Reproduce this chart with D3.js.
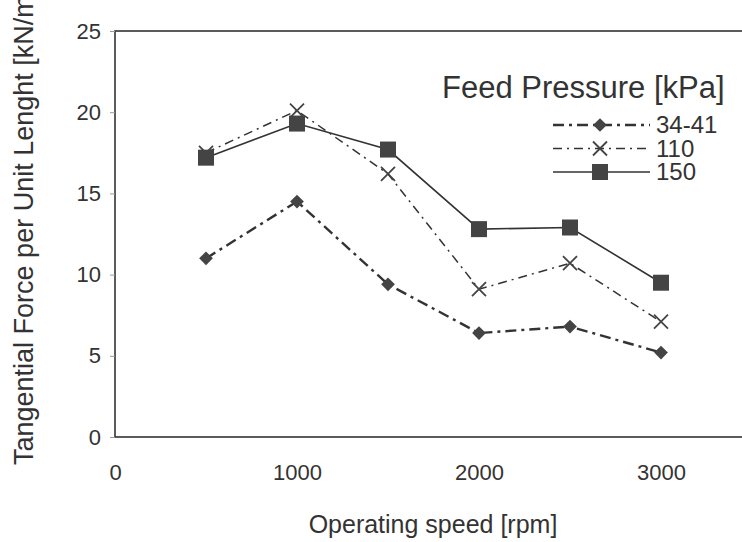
<!DOCTYPE html>
<html>
<head>
<meta charset="utf-8">
<script src="https://cdn.jsdelivr.net/npm/d3@7"></script>
<style>
  body { margin: 0; background: #fff; }
  text { font-family: "Liberation Sans", Arial, sans-serif; fill: #333; }
</style>
</head>
<body>
<svg id="chart" width="742" height="542"></svg>
<script>
const speeds = [500, 1000, 1500, 2000, 2500, 3000];
const p3441 = [11.0, 14.5, 9.4, 6.4, 6.8, 5.2];
const p110 = [17.5, 20.1, 16.2, 9.1, 10.7, 7.1];
const p150 = [17.2, 19.3, 17.7, 12.8, 12.9, 9.5];
const seriesNames = ['34-41', '110', '150'];
const xTicks = [0, 1000, 2000, 3000];
const yTicks = [0, 5, 10, 15, 20, 25];

const margin = {top: 31, left: 115, bottom: 105};
const width = 742 + 10 - margin.left;
const height = 542 - margin.top - margin.bottom;

const x = d3.scaleLinear().domain([0, 3500]).range([0, width]);
const y = d3.scaleLinear().domain([0, 25]).range([height, 0]);

const svg = d3.select('#chart');
const chart = svg.append('g')
    .attr('transform', `translate(${margin.left},${margin.top})`);

// plot frame
chart.append('rect')
    .attr('width', width)
    .attr('height', height)
    .attr('fill', 'none')
    .attr('stroke', '#333')
    .attr('stroke-width', 1.6);

const yAxis = d3.axisLeft(y).tickValues(yTicks).tickSize(5).tickPadding(9);
chart.append('g')
    .call(yAxis)
    .call(g => g.select('.domain').remove())
    .call(g => g.selectAll('line').attr('stroke', '#999'))
    .call(g => g.selectAll('text')
        .style('font-size', '22px')
        .attr('fill', '#333'));

const xAxis = d3.axisBottom(x).tickValues(xTicks).tickFormat(d3.format('d'))
    .tickSize(0).tickPadding(27);
chart.append('g')
    .attr('transform', `translate(0,${height})`)
    .call(xAxis)
    .call(g => g.select('.domain').remove())
    .call(g => g.selectAll('text')
        .style('font-size', '22px')
        .attr('fill', '#333'));

svg.append('text')
    .attr('x', 433)
    .attr('y', 533)
    .attr('text-anchor', 'middle')
    .style('font-size', '25px')
    .text('Operating speed [rpm]');

svg.append('text')
    .attr('transform', 'translate(33,465) rotate(-90)')
    .style('font-size', '27px')
    .text('Tangential Force per Unit Lenght [kN/m]');

const styles = {
  '34-41': {dash: '11,5,3,5', width: 2.4, data: p3441, marker: 'diamond'},
  '110': {dash: '9,5,2,5', width: 1.5, data: p110, marker: 'cross'},
  '150': {dash: null, width: 1.6, data: p150, marker: 'square'}
};

const line = d3.line()
    .x(d => x(d[0]))
    .y(d => y(d[1]));

function drawMarker(g, type, cx, cy) {
  if (type === 'diamond') {
    g.append('path')
        .attr('d', d3.symbol(d3.symbolDiamond2, 120)())
        .attr('transform', `translate(${cx},${cy})`)
        .attr('fill', '#444');
  } else if (type === 'square') {
    g.append('rect')
        .attr('x', cx - 8).attr('y', cy - 8)
        .attr('width', 16).attr('height', 16)
        .attr('fill', '#444');
  } else {
    g.append('path')
        .attr('d', `M${cx - 7},${cy - 7}L${cx + 7},${cy + 7}M${cx - 7},${cy + 7}L${cx + 7},${cy - 7}`)
        .attr('stroke', '#444')
        .attr('stroke-width', 1.8)
        .attr('fill', 'none');
  }
}

seriesNames.forEach(name => {
  const s = styles[name];
  const pts = speeds.map((v, i) => [v, s.data[i]]);
  chart.append('path')
      .datum(pts)
      .attr('d', line)
      .attr('fill', 'none')
      .attr('stroke', '#333')
      .attr('stroke-width', s.width)
      .attr('stroke-dasharray', s.dash);
  const mg = chart.append('g');
  pts.forEach(p => drawMarker(mg, s.marker, x(p[0]), y(p[1])));
});

// legend
const legend = svg.append('g');
legend.append('text')
    .attr('x', 442)
    .attr('y', 98)
    .style('font-size', '31px')
    .text('Feed Pressure [kPa]');

seriesNames.forEach((name, i) => {
  const s = styles[name];
  const ly = 125 + i * 23.5;
  legend.append('line')
      .attr('x1', 553).attr('x2', 650)
      .attr('y1', ly).attr('y2', ly)
      .attr('stroke', '#333')
      .attr('stroke-width', s.width)
      .attr('stroke-dasharray', s.dash);
  drawMarker(legend, s.marker, 600, ly);
  legend.append('text')
      .attr('x', 656)
      .attr('y', ly + 8)
      .style('font-size', '24px')
      .text(name);
});
</script>
</body>
</html>
